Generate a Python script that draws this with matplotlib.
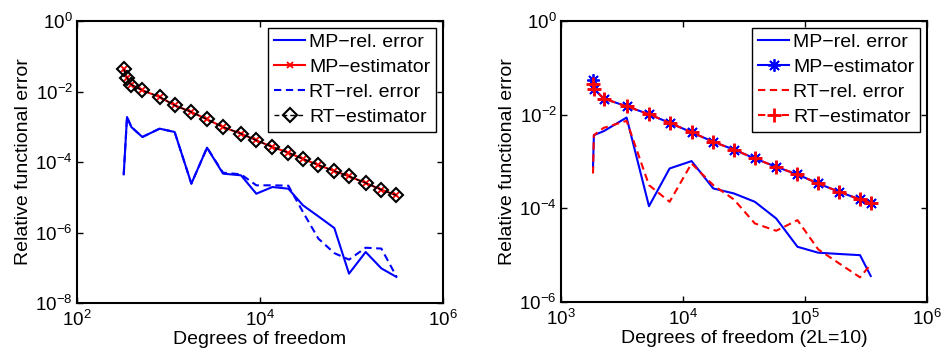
import matplotlib
matplotlib.use("Agg")
import matplotlib.pyplot as plt

plt.rcParams["font.family"] = ["Liberation Sans", "DejaVu Sans"]
plt.rcParams["mathtext.fontset"] = "custom"
plt.rcParams["mathtext.rm"] = "Liberation Sans"
plt.rcParams["mathtext.it"] = "Liberation Sans:italic"
plt.rcParams["mathtext.bf"] = "Liberation Sans:bold"

# ---- left panel: uniform refinement ----
dof_left = [324, 352, 393, 518, 800, 1167, 1778, 2637, 3944, 6200, 9120, 13650,
            20400, 29500, 43450, 64900, 93900, 142900, 211900, 309300]
mp_err_left = [4.47e-5, 1.89e-3, 9.8e-4, 5.12e-4, 8.83e-4, 7.1e-4, 2.43e-5, 2.55e-4,
               4.67e-5, 4.19e-5, 1.26e-5, 1.95e-5, 1.75e-5, 5.9e-6, 2.87e-6, 1.34e-6,
               6.8e-8, 2.8e-7, 9.6e-8, 5.5e-8]
mp_est_left = [0.0425, 0.0247, 0.0156, 0.0108, 6.98e-3, 4.05e-3, 2.62e-3, 1.62e-3,
               9.8e-4, 6.37e-4, 4.12e-4, 2.67e-4, 1.84e-4, 1.22e-4, 8.2e-5, 5.56e-5,
               3.92e-5, 2.54e-5, 1.64e-5, 1.13e-5]
rt_err_left = [4.47e-5, 1.89e-3, 9.8e-4, 5.12e-4, 8.83e-4, 7.1e-4, 2.43e-5, 2.55e-4,
               4.98e-5, 4.47e-5, 2.18e-5, 2.18e-5, 2.13e-5, 3.8e-6, 6.7e-7, 2.6e-7,
               1.7e-7, 3.7e-7, 3.5e-7, 5.7e-8]
rt_est_left = mp_est_left

# ---- right panel: 2L = 10 ----
dof_right = [1830, 1860, 2234, 3451, 5262, 7766, 11751, 17690, 26120, 38810, 58030,
             86750, 128200, 190400, 282600, 345700]
mp_err_right = [7.7e-4, 3.65e-3, 4.43e-3, 8.68e-3, 1.11e-4, 7.1e-4, 1.02e-3, 2.66e-4,
                2.08e-4, 1.38e-4, 6.08e-5, 1.51e-5, 1.13e-5, 1.06e-5, 1.0e-5, 3.59e-6]
mp_est_right = [0.054, 0.036, 0.0221, 0.0151, 0.0102, 6.68e-3, 4.22e-3, 2.63e-3,
                1.8e-3, 1.16e-3, 7.7e-4, 5.28e-4, 3.4e-4, 2.25e-4, 1.55e-4, 1.31e-4]
rt_err_right = [5.55e-4, 3.65e-3, 5.22e-3, 7.37e-3, 3.13e-4, 1.38e-4, 9.06e-4, 3.13e-4,
                1.55e-4, 4.76e-5, 3.32e-5, 5.6e-5, 1.33e-5, 6.68e-6, 3.36e-6, 6.36e-6]
rt_est_right = [0.046, 0.036, 0.0221, 0.0151, 0.0102, 6.68e-3, 4.22e-3, 2.63e-3,
                1.8e-3, 1.16e-3, 7.7e-4, 5.28e-4, 3.4e-4, 2.25e-4, 1.55e-4, 1.31e-4]

labels = ["MP\u2212rel. error", "MP\u2212estimator", "RT\u2212rel. error", "RT\u2212estimator"]

fig = plt.figure(figsize=(9.43, 3.58), dpi=100)
ax1 = fig.add_axes([77 / 943, 1 - 303 / 358, 366 / 943, 282 / 358])
ax2 = fig.add_axes([561 / 943, 1 - 302 / 358, 366 / 943, 281 / 358])

lw = 1.5
dash = (3.5, 2.2)
asterisk = (8, 2, 0)

ax1.plot(dof_left, mp_err_left, "-", color="#0000ff", lw=lw, label=labels[0])
ax1.plot(dof_left, mp_est_left, "-", color="#ff0000", lw=lw, marker="x", ms=5,
         mew=1.3, label=labels[1])
ax1.plot(dof_left, rt_err_left, "--", color="#0000ff", lw=lw, dashes=dash,
         label=labels[2])
ax1.plot(dof_left, rt_est_left, "--", color="black", lw=1.0, dashes=dash,
         marker="D", ms=7, mfc="none", mec="black", mew=1.5, label=labels[3])

ax2.plot(dof_right, mp_err_right, "-", color="#0000ff", lw=lw, label=labels[0])
ax2.plot(dof_right, mp_est_right, "-", color="#0000ff", lw=lw, marker=asterisk, ms=9,
         mew=1.3, label=labels[1])
ax2.plot(dof_right, rt_err_right, "--", color="#ff0000", lw=lw, dashes=dash,
         label=labels[2])
ax2.plot(dof_right, rt_est_right, "--", color="#ff0000", lw=lw, dashes=dash,
         marker="+", ms=10, mew=2.0, label=labels[3])

for ax in (ax1, ax2):
    ax.set_xscale("log")
    ax.set_yscale("log")

ax1.set_xlim(1e2, 1e6)
ax1.set_ylim(1e-8, 1e0)
ax1.set_xticks([1e2, 1e4, 1e6])
ax1.set_yticks([1e-8, 1e-6, 1e-4, 1e-2, 1e0])
ax1.set_xlabel("Degrees of freedom", fontsize=14, labelpad=1)
ax1.set_ylabel("Relative functional error", fontsize=14, labelpad=2)

ax2.set_xlim(1e3, 1e6)
ax2.set_ylim(1e-6, 1e0)
ax2.set_xticks([1e3, 1e4, 1e5, 1e6])
ax2.set_yticks([1e-6, 1e-4, 1e-2, 1e0])
ax2.set_xlabel("Degrees of freedom (2L=10)", fontsize=14, labelpad=1)
ax2.set_ylabel("Relative functional error", fontsize=14, labelpad=2)

for ax in (ax1, ax2):
    ax.minorticks_off()
    ax.tick_params(which="major", direction="in", length=4, width=1.0,
                   top=True, right=True, labelsize=13.5)
    ax.tick_params(axis="x", pad=5)
    ax.tick_params(axis="y", pad=3)
    for sp in ax.spines.values():
        sp.set_linewidth(1.5)
    leg = ax.legend(loc="upper right", fontsize=14, frameon=True, fancybox=False,
                    edgecolor="black", framealpha=1, borderpad=0.3,
                    labelspacing=0.38, handlelength=1.6, handletextpad=0.2,
                    borderaxespad=0.35)
    leg.get_frame().set_linewidth(1.0)

fig.savefig("out.png", dpi=100)
